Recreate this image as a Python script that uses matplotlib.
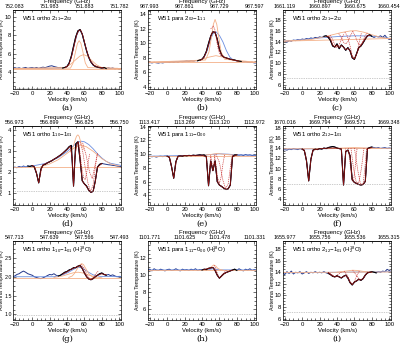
import matplotlib
matplotlib.use("Agg")
import matplotlib.pyplot as plt
from matplotlib.ticker import AutoMinorLocator

plt.rcParams['font.family'] = 'Liberation Sans'
plt.rcParams['mathtext.fontset'] = 'custom'
plt.rcParams['mathtext.rm'] = 'Liberation Sans'
plt.rcParams['mathtext.it'] = 'Liberation Sans:italic'

# velocity grid of the observed spectra (km/s)
vel = [-22.5, -20.0, -17.5, -15.0, -12.5, -10.0, -7.5, -5.0, -2.5, 0.0,
       2.5, 5.0, 7.5, 10.0, 12.5, 15.0, 17.5, 20.0, 22.5, 25.0,
       27.5, 30.0, 32.5, 35.0, 37.5, 40.0, 42.5, 45.0, 47.5, 50.0,
       52.5, 55.0, 57.5, 60.0, 62.5, 65.0, 67.5, 70.0, 72.5, 75.0,
       77.5, 80.0, 82.5, 85.0, 87.5, 90.0, 92.5, 95.0, 97.5, 100.0, 102.5]

# observed antenna temperatures (K)
obs_a = [4.40, 4.50, 4.42, 4.48, 4.40, 4.46, 4.52, 4.42, 4.47, 4.50,
         4.44, 4.52, 4.42, 4.50, 4.55, 4.50, 4.58, 4.66, 4.70, 4.62,
         4.56, 4.50, 4.52, 4.46, 4.52, 4.62, 5.00, 5.75, 6.80, 7.80,
         8.45, 8.60, 8.10, 7.20, 6.30, 5.60, 5.10, 4.80, 4.62, 4.55,
         4.50, 4.45, 4.52, 4.40, 4.48, 4.40, 4.46, 4.36, 4.42, 4.32, 4.40]
obs_b = [7.35, 7.40, 7.30, 7.38, 7.32, 7.28, 7.35, 7.30, 7.38, 7.40,
         7.35, 7.42, 7.38, 7.45, 7.40, 7.50, 7.45, 7.50, 7.55, 7.50,
         7.60, 7.55, 7.62, 7.60, 7.70, 7.80, 8.20, 8.90, 10.0, 11.0,
         11.6, 11.5, 10.6, 9.2, 8.4, 8.1, 8.0, 7.9, 7.8, 7.75,
         7.70, 7.60, 7.55, 7.50, 7.45, 7.50, 7.40, 7.35, 7.40, 7.30, 7.30]
obs_c = [14.0, 14.1, 13.9, 14.2, 14.1, 14.3, 14.2, 14.4, 14.3, 14.5,
         14.4, 14.6, 14.5, 14.7, 14.6, 14.8, 14.7, 14.9, 14.8, 15.0,
         15.1, 14.8, 14.2, 13.2, 13.0, 13.6, 12.7, 13.4, 13.0, 12.4,
         12.9, 12.3, 11.0, 10.7, 11.8, 12.9, 13.2, 13.8, 14.5, 15.1,
         15.3, 15.0, 14.8, 15.0, 14.9, 15.1, 14.8, 15.2, 14.7, 14.4, 14.5]
obs_d = [2.20, 2.25, 2.22, 2.28, 2.24, 2.30, 2.26, 2.30, 2.28, 2.32,
         2.25, 1.95, 1.50, 2.15, 2.35, 2.38, 2.45, 2.50, 2.55, 2.62,
         2.68, 2.75, 2.82, 2.90, 3.00, 3.10, 3.22, 3.28, 1.35, 3.35,
         3.45, 2.60, 1.60, 1.45, 1.35, 1.15, 1.05, 1.10, 1.60, 2.25,
         2.38, 2.42, 2.40, 2.38, 2.36, 2.35, 2.33, 2.32, 2.30, 2.28, 2.28]
obs_e = [9.60, 9.70, 9.62, 9.68, 9.58, 9.66, 9.70, 9.64, 9.72, 9.70,
         9.55, 8.20, 6.50, 8.90, 9.70, 9.75, 9.70, 9.80, 9.75, 9.82,
         9.78, 9.85, 9.80, 9.85, 9.90, 9.85, 9.90, 9.60, 5.40, 9.00,
         7.60, 9.00, 6.00, 5.50, 5.30, 5.05, 4.85, 4.95, 5.50, 9.60,
         9.90, 9.90, 9.85, 9.90, 9.80, 9.95, 9.85, 9.90, 9.80, 9.85, 9.75]
obs_f = [13.5, 13.7, 13.6, 13.8, 13.7, 13.9, 13.8, 13.7, 13.9, 13.8,
         13.5, 11.5, 7.6, 11.8, 13.6, 13.8, 13.7, 13.9, 13.8, 14.0,
         13.9, 14.1, 14.2, 14.3, 14.2, 14.0, 13.9, 13.8, 6.8, 13.3,
         13.6, 12.5, 7.8, 7.3, 7.1, 6.9, 6.8, 6.9, 7.5, 13.9,
         14.1, 14.2, 14.1, 14.0, 14.1, 13.9, 14.0, 14.1, 13.9, 14.0, 13.9]
obs_g = [2.00, 2.02, 2.06, 2.08, 2.12, 2.15, 2.12, 2.08, 2.06, 2.04,
         2.00, 1.98, 1.96, 1.95, 1.97, 2.00, 2.03, 2.06, 2.05, 2.08,
         2.04, 2.02, 2.04, 2.08, 2.12, 2.14, 2.18, 2.20, 2.24, 2.24,
         2.28, 2.30, 2.22, 2.10, 2.00, 1.94, 1.92, 1.95, 2.00, 2.04,
         2.08, 2.10, 2.06, 2.04, 2.06, 2.03, 2.05, 2.02, 2.00, 2.01, 2.00]
obs_h = [10.60, 10.70, 10.50, 10.75, 10.60, 10.55, 10.70, 10.60, 10.50, 10.65,
         10.70, 10.55, 10.60, 10.75, 10.60, 10.50, 10.70, 10.60, 10.65, 10.55,
         10.70, 10.60, 10.75, 10.55, 10.65, 10.60, 10.70, 10.65, 10.80, 10.85,
         10.90, 10.55, 10.00, 9.65, 9.90, 10.15, 10.30, 10.40, 10.50, 10.60,
         10.70, 10.55, 10.75, 10.60, 10.50, 10.70, 10.60, 10.75, 10.55, 10.65, 10.60]
obs_i = [14.0, 13.6, 14.1, 13.8, 14.2, 13.7, 14.0, 13.9, 14.1, 13.7,
         13.9, 14.1, 13.8, 14.0, 13.9, 14.1, 13.9, 14.0, 13.9, 14.1,
         13.9, 13.8, 13.6, 13.3, 13.2, 13.4, 13.2, 13.0, 13.3, 13.5,
         13.0, 12.2, 11.8, 12.3, 12.5, 12.8, 12.6, 12.9, 13.5, 13.9,
         14.0, 14.1, 14.0, 13.9, 14.1, 14.0, 14.2, 14.1, 14.5, 14.3, 14.1]

# blue: continuum + emission model
blue_a = ([-22, 36, 40, 43, 46, 49, 52, 54.5, 57, 60, 63, 66, 70, 75, 80, 102],
          [4.40, 4.45, 4.6, 5.1, 6.0, 7.2, 8.2, 8.55, 8.2, 7.2, 6.1, 5.3, 4.75, 4.5, 4.45, 4.40])
blue_b = ([-22, 38, 42, 46, 50, 53, 56, 60, 64, 68, 72, 76, 80, 102],
          [7.30, 7.65, 8.0, 9.0, 10.6, 11.4, 11.6, 11.1, 10.2, 9.0, 8.1, 7.7, 7.55, 7.30])
blue_c = ([-22, 20, 40, 60, 80, 102], [14.1, 14.7, 14.95, 15.1, 15.05, 14.6])
blue_d = ([-22, 0, 15, 30, 40, 47, 52, 56, 60, 65, 70, 75, 80, 85, 90, 102],
          [2.22, 2.30, 2.42, 2.70, 2.98, 3.25, 3.42, 3.48, 3.45, 3.32, 3.12, 2.88, 2.68, 2.52, 2.43, 2.33])
blue_e = ([-22, 40, 50, 60, 70, 80, 102], [9.70, 9.85, 9.95, 10.05, 10.0, 9.9, 9.85])
blue_f = ([-22, 102], [13.8, 14.0])
blue_g = ([-22, 25, 35, 42, 47, 51, 55, 59, 64, 70, 78, 102],
          [2.0, 2.0, 2.05, 2.12, 2.19, 2.24, 2.25, 2.21, 2.13, 2.05, 2.01, 2.0])
blue_h = ([-22, 45, 50, 53, 56, 60, 102], [10.6, 10.62, 10.7, 10.75, 10.7, 10.62, 10.6])
blue_i = ([-22, 102], [13.9, 14.1])

# orange: continuum and emission components
orange_a = [([-22, 102], [4.40, 4.40]),
            ([-22, 44, 47, 50, 52, 54, 56, 58, 61, 64, 102],
             [4.40, 4.45, 5.0, 6.3, 7.1, 7.4, 7.1, 6.3, 5.0, 4.5, 4.40]),
            ([-22, 38, 44, 50, 55, 59, 63, 68, 74, 80, 102],
             [4.40, 4.5, 4.85, 5.35, 5.75, 5.9, 5.75, 5.3, 4.8, 4.5, 4.40])]
orange_b = [([-22, 102], [7.40, 7.40]),
            ([-22, 44, 48, 51, 53, 55, 57, 59, 62, 66, 102],
             [7.40, 7.7, 8.8, 11.0, 12.6, 13.3, 12.6, 11.0, 8.8, 7.8, 7.40]),
            ([-22, 30, 40, 48, 56, 64, 72, 82, 102],
             [7.40, 7.5, 7.8, 8.1, 8.3, 8.1, 7.8, 7.5, 7.40])]
orange_c = [([-22, 102], [14.1, 14.6]),
            ([-22, 10, 25, 35, 45, 55, 62, 70, 80, 90, 102],
             [14.1, 14.4, 14.9, 15.3, 15.7, 16.0, 16.05, 15.8, 15.3, 14.8, 14.5])]
orange_d = [([-22, 102], [2.25, 2.25]),
            ([10, 20, 30, 40, 48, 55, 62, 70, 80, 90, 100],
             [2.27, 2.4, 2.6, 2.9, 3.15, 3.3, 3.22, 3.0, 2.65, 2.4, 2.3]),
            ([44, 47, 49.5, 51, 52.5, 54, 56, 59], [3.0, 3.2, 3.55, 3.72, 3.78, 3.7, 3.4, 3.1])]
orange_e = [([-22, 102], [9.80, 9.80]),
            ([40, 50, 57, 64, 72, 80], [9.85, 9.95, 10.1, 10.0, 9.9, 9.85])]
orange_f = [([-22, 102], [13.85, 13.95]),
            ([30, 45, 60, 75, 90], [13.9, 14.0, 14.1, 14.0, 13.95])]
orange_g = [([-22, 102], [1.97, 1.97]),
            ([42, 46, 49, 52, 55, 57, 59, 62, 65, 69, 74],
             [1.98, 2.02, 2.1, 2.22, 2.32, 2.35, 2.32, 2.2, 2.08, 2.0, 1.97]),
            ([25, 35, 42, 48, 53, 58, 64, 72, 80], [1.98, 2.02, 2.07, 2.11, 2.12, 2.1, 2.05, 2.0, 1.97])]
orange_h = [([-22, 102], [10.6, 10.6]),
            ([44, 48, 51, 53.5, 56, 58, 61, 64], [10.62, 10.75, 11.0, 11.2, 11.05, 10.8, 10.65, 10.6])]
orange_i = [([-22, 102], [13.95, 14.05]),
            ([40, 50, 58, 64, 72, 80], [14.0, 14.2, 14.35, 14.3, 14.1, 14.0])]

# red dashed: absorption components
red_a = []
red_b = [([50, 53, 55, 57, 59, 61, 64], [12.0, 12.4, 11.8, 10.2, 9.0, 8.4, 8.1])]
red_c = [([32, 35, 37.5, 40, 42.5, 45, 48], [15.2, 14.4, 13.4, 12.9, 13.4, 14.5, 15.5]),
         ([42, 45, 47.5, 50, 52.5, 55, 58], [15.5, 14.8, 13.9, 13.6, 14.0, 15.0, 15.9]),
         ([49, 52, 55, 57.5, 60, 62.5, 65, 68], [15.8, 15.0, 13.2, 11.4, 10.8, 11.6, 13.6, 15.6]),
         ([58, 61, 64, 66.5, 69, 72, 75], [16.0, 15.0, 13.8, 13.3, 13.8, 15.0, 15.7])]
red_d = [([1, 4, 6, 7.5, 9, 11, 13], [2.3, 2.15, 1.8, 1.5, 1.8, 2.2, 2.35]),
         ([44, 46, 47.5, 49, 51], [3.25, 2.6, 1.35, 2.6, 3.35]),
         ([53, 55, 57, 59, 61, 63, 66], [3.45, 2.9, 2.2, 1.75, 1.65, 2.1, 2.9]),
         ([55, 58, 61, 64, 67, 70, 73, 75], [3.45, 3.0, 2.2, 1.5, 1.1, 1.4, 2.4, 2.9]),
         ([58, 62, 66, 69, 72, 75], [3.4, 2.8, 2.0, 1.7, 2.3, 2.9])]
red_e = [([2, 4, 6, 7.5, 9, 11, 13], [9.7, 9.0, 7.6, 6.5, 7.6, 9.2, 9.7]),
         ([45, 46.5, 47.5, 48.5, 50], [9.8, 7.5, 5.4, 7.5, 9.8]),
         ([50, 51.5, 52.5, 53.5, 55], [9.8, 8.6, 7.6, 8.6, 9.8]),
         ([54, 56, 58, 60, 62, 64, 66], [9.9, 8.5, 6.5, 5.8, 6.7, 8.6, 9.9]),
         ([56, 60, 64, 67, 70, 73, 75], [10.0, 8.8, 6.2, 5.0, 5.6, 8.5, 9.9])]
red_f = [([2, 4, 6, 7.5, 9, 11, 13], [13.8, 12.8, 10.0, 7.6, 10.0, 12.8, 13.8]),
         ([45, 46.5, 47.5, 48.5, 50], [13.9, 10.0, 6.7, 10.0, 13.9]),
         ([53, 55, 57, 59, 61, 63], [14.0, 11.0, 8.0, 7.5, 10.5, 13.9]),
         ([56, 59, 62, 65, 68, 71], [14.0, 10.0, 7.4, 7.2, 10.0, 14.0]),
         ([60, 64, 67, 70, 72, 74], [14.0, 9.5, 7.0, 7.0, 10.0, 14.0])]
red_g = [([56, 59, 62, 65, 67.5, 70, 73, 76], [2.33, 2.25, 2.1, 1.98, 1.93, 1.98, 2.08, 2.15])]
red_h = [([54, 56, 58, 60, 62, 65, 68], [11.15, 10.7, 10.1, 9.7, 9.9, 10.3, 10.55])]
red_i = [([30, 34, 37.5, 41, 45], [14.0, 13.6, 13.2, 13.6, 14.0]),
         ([48, 52, 55, 57.5, 60, 63, 66], [14.2, 13.5, 12.4, 11.9, 12.4, 13.5, 14.3]),
         ([58, 62, 65, 67.5, 70, 73, 76], [14.35, 13.5, 12.9, 12.7, 13.0, 13.7, 14.1])]

# dark red: total fitted model
total_a = ([38, 42, 45, 48, 51, 53.5, 55.5, 58, 61, 64, 67, 71, 76, 82],
           [4.5, 4.8, 5.6, 6.8, 8.0, 8.5, 8.55, 8.0, 6.9, 5.9, 5.2, 4.75, 4.55, 4.45])
total_b = ([38, 42, 45, 48, 50, 52, 54, 56, 58, 60, 62, 65, 70, 76, 82],
           [7.65, 8.0, 8.8, 10.0, 11.0, 11.5, 11.6, 11.2, 10.2, 9.1, 8.5, 8.1, 7.9, 7.7, 7.55])
total_c = ([28, 31, 33, 35, 37.5, 40, 42.5, 45, 47.5, 50, 52.5, 55, 57.5, 60, 62.5, 65, 67.5, 70, 72.5, 75, 78],
           [15.0, 14.9, 14.3, 13.4, 13.0, 13.4, 12.9, 13.3, 13.0, 12.5, 12.8, 12.3, 11.1, 10.8, 11.7,
            12.8, 13.3, 13.9, 14.6, 15.1, 15.2])
total_d = ([0, 2.5, 5, 7.5, 10, 12.5, 20, 30, 40, 44, 46, 47.5, 49, 51, 53, 55, 57.5, 60, 62.5, 65, 67.5,
            70, 72.5, 75, 80],
           [2.32, 2.28, 1.95, 1.50, 2.10, 2.36, 2.50, 2.74, 3.08, 3.25, 2.6, 1.35, 2.7, 3.35, 3.45, 2.6,
            1.6, 1.45, 1.32, 1.15, 1.05, 1.1, 1.55, 2.25, 2.42])
total_e = ([0, 2.5, 5, 7.5, 10, 12.5, 20, 30, 40, 45, 47.5, 50, 52.5, 55, 57.5, 60, 62.5, 65, 67.5, 70,
            72.5, 75, 80],
           [9.70, 9.55, 8.2, 6.5, 8.9, 9.7, 9.78, 9.82, 9.85, 9.6, 5.4, 9.0, 7.6, 9.0, 6.0, 5.5, 5.3,
            5.05, 4.88, 4.95, 5.5, 9.6, 9.9])
total_f = ([0, 2.5, 5, 7.5, 10, 12.5, 20, 30, 40, 45, 47.5, 50, 52.5, 55, 57.5, 60, 62.5, 65, 67.5, 70,
            72.5, 75, 80],
           [13.8, 13.5, 11.5, 7.6, 11.8, 13.6, 13.85, 14.0, 14.0, 13.8, 6.8, 13.3, 13.6, 12.5, 7.8, 7.3,
            7.1, 6.9, 6.8, 6.9, 7.5, 13.9, 14.1])
total_g = ([35, 40, 45, 50, 52.5, 55, 57.5, 60, 62.5, 65, 67.5, 70, 72.5, 75, 80, 85],
           [2.07, 2.13, 2.2, 2.25, 2.28, 2.29, 2.22, 2.1, 2.0, 1.94, 1.92, 1.95, 2.0, 2.04, 2.08, 2.05])
total_h = ([42, 47.5, 50, 52.5, 55, 57.5, 60, 62.5, 65, 67.5, 70, 75],
           [10.65, 10.8, 10.85, 10.9, 10.55, 10.0, 9.65, 9.9, 10.15, 10.3, 10.4, 10.6])
total_i = ([30, 32.5, 35, 37.5, 40, 42.5, 45, 47.5, 50, 52.5, 55, 57.5, 60, 62.5, 65, 67.5, 70, 72.5, 75, 80],
           [13.9, 13.6, 13.35, 13.2, 13.35, 13.2, 13.05, 13.3, 13.45, 13.0, 12.25, 11.85, 12.3, 12.55,
            12.75, 12.65, 12.9, 13.5, 13.9, 14.05])

# half-continuum level (grey dotted), None if off the plot
dotted = [2.35, None, 7.2, 1.1, 4.9, 6.9, 0.98, 5.4, 7.1]

# fitted window (drawn in black)
windows = [(35, 85), (35, 85), (25, 80), (-5, 80), (0, 80), (0, 80), (30, 85), (40, 80), (30, 85)]

ylims = [(2.2, 10.7), (3.7, 14.6), (5.2, 19.9), (0.45, 4.2), (2.6, 14.1), (2.9, 18.3),
         (0.85, 2.95), (4.75, 14.0), (5.75, 19.4)]
yticks = [[4, 6, 8, 10], [4, 6, 8, 10, 12, 14], [6, 8, 10, 12, 14, 16, 18], [1, 2, 3, 4],
          [4, 6, 8, 10, 12, 14], [4, 6, 8, 10, 12, 14, 16, 18], [1.0, 1.5, 2.0, 2.5],
          [6, 8, 10, 12], [6, 8, 10, 12, 14, 16, 18]]

# top axis frequency labels (GHz) at -20, 20, 60, 100 km/s
freq_vel = [-20, 20, 60, 100]
freqs = [["752.083", "751.983", "751.883", "751.782"],
         ["987.993", "987.861", "987.729", "987.597"],
         ["1661.119", "1660.897", "1660.675", "1660.454"],
         ["556.973", "556.899", "556.825", "556.750"],
         ["1113.417", "1113.269", "1113.120", "1112.972"],
         ["1670.016", "1669.794", "1669.571", "1669.348"],
         ["547.713", "547.639", "547.566", "547.493"],
         ["1101.771", "1101.625", "1101.478", "1101.331"],
         ["1655.977", "1655.756", "1655.536", "1655.315"]]

titles = [r"W51 ortho 2$_{11}$$-$2$_{02}$", r"W51 para 2$_{02}$$-$1$_{11}$",
          r"W51 ortho 2$_{21}$$-$2$_{12}$", r"W51 ortho 1$_{10}$$-$1$_{01}$",
          r"W51 para 1$_{11}$$-$0$_{00}$", r"W51 ortho 2$_{12}$$-$1$_{01}$",
          r"W51 ortho 1$_{10}$$-$1$_{01}$ (H$_2^{18}$O)", r"W51 para 1$_{11}$$-$0$_{00}$ (H$_2^{18}$O)",
          r"W51 ortho 2$_{12}$$-$1$_{01}$ (H$_2^{18}$O)"]
letters = ["(a)", "(b)", "(c)", "(d)", "(e)", "(f)", "(g)", "(h)", "(i)"]

obs = [obs_a, obs_b, obs_c, obs_d, obs_e, obs_f, obs_g, obs_h, obs_i]
blues = [blue_a, blue_b, blue_c, blue_d, blue_e, blue_f, blue_g, blue_h, blue_i]
oranges = [orange_a, orange_b, orange_c, orange_d, orange_e, orange_f, orange_g, orange_h, orange_i]
reds = [red_a, red_b, red_c, red_d, red_e, red_f, red_g, red_h, red_i]
totals = [total_a, total_b, total_c, total_d, total_e, total_f, total_g, total_h, total_i]

fs = 4.3
fig = plt.figure(figsize=(4.0, 3.43), dpi=100)

col_left = [13, 148, 283]
row_top = [10, 126, 241]
for k in range(9):
    r, c = divmod(k, 3)
    ax = fig.add_axes([col_left[c] / 400, 1 - (row_top[r] + 79) / 343, 108 / 400, 79 / 343])

    # observed spectrum, fitted window in black
    ax.plot(vel, obs[k], color='#24378a', lw=0.7)
    lo, hi = windows[k]
    wv = [v for v in vel if lo <= v <= hi]
    wt = [t for v, t in zip(vel, obs[k]) if lo <= v <= hi]

    ax.plot(blues[k][0], blues[k][1], color='#6b8ee0', lw=0.6)
    for comp in oranges[k]:
        ax.plot(comp[0], comp[1], color='#f4b088', lw=0.6)
    for comp in reds[k]:
        ax.plot(comp[0], comp[1], color='#cc3333', lw=0.5, ls=(0, (1.5, 1.2)))
    ax.plot(wv, wt, color='black', lw=0.8)
    ax.plot(totals[k][0], totals[k][1], color='#8b1212', lw=0.6)
    if dotted[k] is not None:
        ax.axhline(dotted[k], color='#999999', lw=0.5, ls=(0, (1, 1.5)))

    ax.set_xlim(-22, 102)
    ax.set_ylim(*ylims[k])
    ax.set_xticks([-20, 0, 20, 40, 60, 80, 100])
    ax.set_yticks(yticks[k])
    if k == 6:
        ax.set_yticklabels(["1.0", "1.5", "2.0", "2.5"])
    ax.xaxis.set_minor_locator(AutoMinorLocator(4))
    ax.yaxis.set_minor_locator(AutoMinorLocator(4))
    ax.tick_params(which='both', direction='in', labelsize=fs, pad=1.2, right=True, width=0.4)
    ax.tick_params(which='major', length=2.2)
    ax.tick_params(which='minor', length=1.1)
    if k == 6:
        ax.tick_params(axis='y', labelsize=3.8, pad=0.7)
    for s in ax.spines.values():
        s.set_linewidth(0.5)

    ax.set_xlabel("Velocity (km/s)", fontsize=fs, labelpad=1)
    ax.set_ylabel("Antenna Temperature (K)", fontsize=3.8)
    ax.yaxis.set_label_coords(-0.08 if c == 0 else -0.075, 0.5)
    ax.text(0.08, 0.89, titles[k], transform=ax.transAxes, fontsize=fs, va='center')
    ax.text(0.5, -0.235, letters[k], transform=ax.transAxes, fontsize=6, ha='center', va='center',
            family='serif')

    sec = ax.secondary_xaxis('top')
    sec.set_xticks(freq_vel, labels=freqs[k])
    sec.xaxis.set_minor_locator(AutoMinorLocator(4))
    sec.tick_params(which='both', direction='in', labelsize=3.9, pad=1, width=0.4)
    sec.tick_params(which='major', length=2.2)
    sec.tick_params(which='minor', length=1.1)
    sec.set_xlabel("Frequency (GHz)", fontsize=fs, labelpad=0.5)
    for s in sec.spines.values():
        s.set_linewidth(0.5)

fig.savefig("out.png", dpi=100)
